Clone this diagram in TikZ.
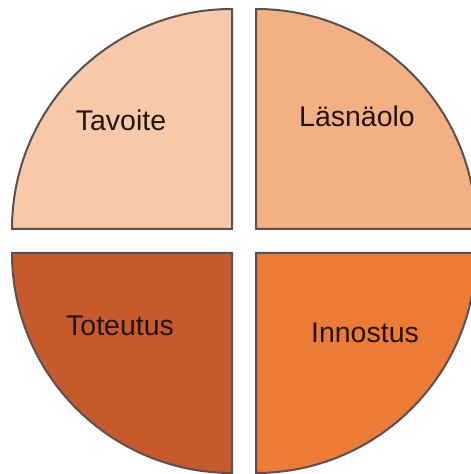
\documentclass[tikz,border=0pt]{standalone}
\usepackage{fontspec}
\setmainfont{Liberation Sans}
\definecolor{cTL}{HTML}{F7C9A9}
\definecolor{cTR}{HTML}{F3B083}
\definecolor{cBL}{HTML}{C75A2C}
\definecolor{cBR}{HTML}{EC7C35}
\definecolor{edge}{HTML}{5A5050}
\definecolor{txt}{HTML}{20140E}
\begin{document}
\begin{tikzpicture}[x=1pt,y=1pt,
  quarter/.style={draw=edge,line width=2pt,line join=miter},
  lbl/.style={anchor=base,text=txt,font=\fontsize{28.5}{30}\selectfont,inner sep=0pt}]
\useasboundingbox (0,0) rectangle (471,474);
\clip (0,0) rectangle (471,474);
\fill[white] (0,0) rectangle (471,474);
% top-left
\draw[quarter,fill=cTL] (232,245) -- (12,245) arc[start angle=180,end angle=90,radius=220] -- cycle;
% top-right
\draw[quarter,fill=cTR] (256,245) -- (476,245) arc[start angle=0,end angle=90,radius=220] -- cycle;
% bottom-left
\draw[quarter,fill=cBL] (232,221) -- (12,221) arc[start angle=180,end angle=270,radius=220] -- cycle;
% bottom-right
\draw[quarter,fill=cBR] (256,221) -- (476,221) arc[start angle=0,end angle=-90,radius=220] -- cycle;
\node[lbl] (tavoite) at (121,343) {Tavoite};
\node[lbl] (lasnaolo) at (357,347) {Läsnäolo};
\node[lbl] (toteutus) at (120,138) {Toteutus};
\node[lbl] (innostus) at (365,131) {Innostus};
\end{tikzpicture}
\end{document}
